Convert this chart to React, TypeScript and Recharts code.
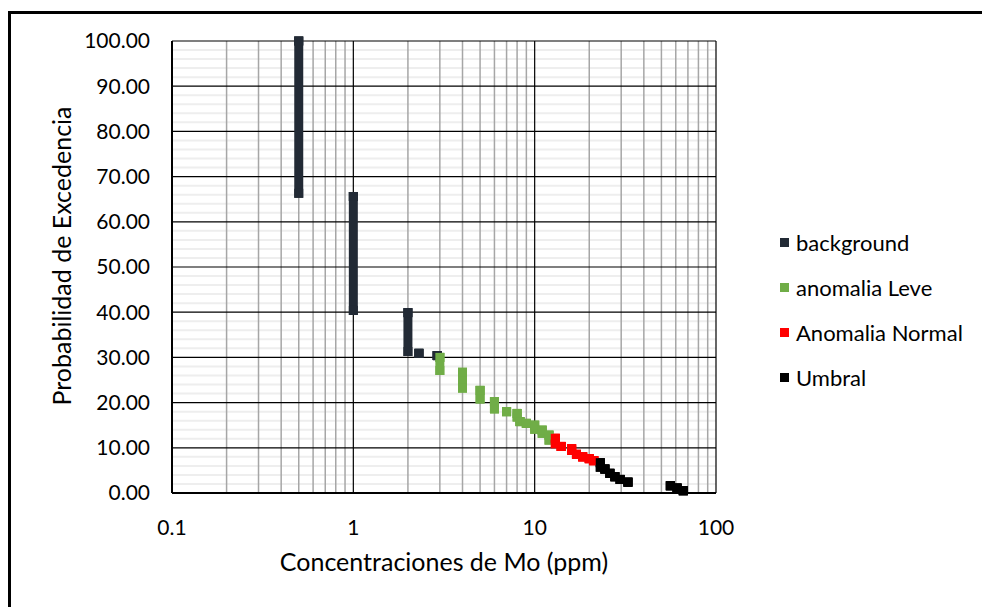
import React from "react"
import { ScatterChart, Scatter, XAxis, YAxis, ReferenceLine, ErrorBar, Label } from "recharts"

const FONT = "Lato, 'Open Sans', sans-serif"

// axis ticks and gridlines
const xTicks = [0.1, 1, 10, 100]
const xMinor = [0.2, 0.3, 0.4, 0.5, 0.6, 0.7, 0.8, 0.9, 2, 3, 4, 5, 6, 7, 8, 9, 20, 30, 40, 50, 60, 70, 80, 90]
const yTicks = [0, 10, 20, 30, 40, 50, 60, 70, 80, 90, 100]
const yMinor = [
  2, 4, 6, 8, 12, 14, 16, 18, 22, 24, 26, 28, 32, 34, 36, 38, 42, 44, 46, 48,
  52, 54, 56, 58, 62, 64, 66, 68, 72, 74, 76, 78, 82, 84, 86, 88, 92, 94, 96, 98,
]

// background (Mo ppm, top and bottom of each stacked run of points)
const bgX = [0.5, 1, 2, 2.3, 2.9]
const bgTop = [100, 65.6, 39.9, 30.9, 30.4]
const bgBottom = [66.3, 40.4, 31.3, 30.9, 30.4]

// anomalia Leve
const leveX = [3, 4, 5, 6, 7, 8, 8.3, 9, 10, 11, 12]
const leveTop = [30.0, 26.7, 22.7, 20.2, 18.0, 17.6, 15.8, 15.4, 15.0, 13.9, 12.8]
const leveBottom = [27.1, 23.2, 20.8, 18.6, 18.0, 16.8, 15.8, 15.4, 14.1, 13.2, 11.7]

// Anomalia Normal
const normalX = [13, 14, 16, 17, 18.4, 20, 21.2]
const normalTop = [12.1, 10.3, 9.8, 8.55, 8.0, 7.6, 7.15]
const normalBottom = [10.9, 10.3, 9.4, 8.55, 8.0, 7.6, 7.15]

// Umbral
const umbralX = [23, 24.4, 26, 27.7, 29.6, 32.7, 56, 61, 66]
const umbralTop = [6.7, 5.3, 4.35, 3.6, 3.0, 2.4, 1.6, 1.1, 0.5]
const umbralBottom = [5.7, 5.3, 4.35, 3.6, 3.0, 2.4, 1.6, 1.1, 0.5]

function toRows(xs: number[], tops: number[], bottoms: number[]) {
  return xs.map((x, i) => ({ x, y: tops[i], err: [tops[i] - bottoms[i], 0] }))
}

const series = [
  { name: "background", color: "#222a35", data: toRows(bgX, bgTop, bgBottom) },
  { name: "anomalia Leve", color: "#70ad47", data: toRows(leveX, leveTop, leveBottom) },
  { name: "Anomalia Normal", color: "#ff0000", data: toRows(normalX, normalTop, normalBottom) },
  { name: "Umbral", color: "#000000", data: toRows(umbralX, umbralTop, umbralBottom) },
]

const MARK = 9

function LegendBox() {
  return (
    <div style={{ position: "absolute", left: 780, top: 220, fontFamily: FONT, fontSize: 22, color: "#000" }}>
      {series.map((s) => (
        <div key={s.name} style={{ display: "flex", alignItems: "center", height: 45, whiteSpace: "nowrap" }}>
          <span style={{ width: MARK, height: MARK, background: s.color, marginRight: 7, display: "inline-block" }} />
          <span>{s.name}</span>
        </div>
      ))}
    </div>
  )
}

export default function App() {
  return (
    <div style={{ position: "fixed", left: 0, top: 0, width: 982, height: 607, background: "#fff", overflow: "hidden" }}>
      <div
        style={{
          position: "absolute",
          left: 8,
          top: 11,
          width: 1100,
          height: 800,
          borderTop: "3px solid #000",
          borderLeft: "3px solid #000",
        }}
      />
      <div style={{ position: "absolute", left: 0, top: 0 }}>
        <ScatterChart width={982} height={607} margin={{ top: 41, right: 266, bottom: 64, left: 72 }}>
          <XAxis
            type="number"
            dataKey="x"
            scale="log"
            domain={[0.1, 100]}
            ticks={xTicks}
            allowDataOverflow
            tickFormatter={(v: number) => String(v)}
            tick={{ fontSize: 21, fill: "#000", fontFamily: FONT }}
            tickLine={false}
            tickSize={0}
            tickMargin={27}
            axisLine={{ stroke: "#000", strokeWidth: 2 }}
            height={50}
          >
            <Label
              value="Concentraciones de Mo (ppm)"
              position="insideBottom"
              offset={-28}
              style={{ fontSize: 25, fill: "#000", fontFamily: FONT }}
            />
          </XAxis>
          <YAxis
            type="number"
            dataKey="y"
            domain={[0, 100]}
            ticks={yTicks}
            tickFormatter={(v: number) => v.toFixed(2)}
            tick={{ fontSize: 21, fill: "#000", fontFamily: FONT }}
            tickLine={false}
            tickSize={0}
            tickMargin={22}
            axisLine={{ stroke: "#000", strokeWidth: 2 }}
            width={100}
          >
            <Label
              value="Probabilidad de Excedencia"
              angle={-90}
              position="insideLeft"
              offset={-10}
              dy={-11}
              style={{ fontSize: 25, fill: "#000", fontFamily: FONT, textAnchor: "middle" }}
            />
          </YAxis>
          {yMinor.map((v) => (
            <ReferenceLine key={`ym${v}`} y={v} stroke="#eeeeee" strokeWidth={2} />
          ))}
          {xMinor.map((v) => (
            <ReferenceLine key={`xm${v}`} x={v} stroke="#a6a6a6" strokeWidth={1.5} />
          ))}
          {yTicks.map((v) => (
            <ReferenceLine key={`yM${v}`} y={v} stroke="#000" strokeWidth={1.2} />
          ))}
          {xTicks.map((v) => (
            <ReferenceLine key={`xM${v}`} x={v} stroke="#000" strokeWidth={1.2} />
          ))}
          {series.map((s) => (
            <Scatter
              key={s.name}
              name={s.name}
              data={s.data}
              fill={s.color}
              isAnimationActive={false}
              shape={(p: any) => (
                <rect x={p.cx - MARK / 2} y={p.cy - MARK / 2} width={MARK} height={MARK} fill={s.color} />
              )}
            >
              <ErrorBar
                dataKey="err"
                direction="y"
                width={0}
                stroke={s.color}
                strokeWidth={MARK}
                strokeLinecap="square"
                isAnimationActive={false}
              />
            </Scatter>
          ))}
        </ScatterChart>
      </div>
      <LegendBox />
    </div>
  )
}
